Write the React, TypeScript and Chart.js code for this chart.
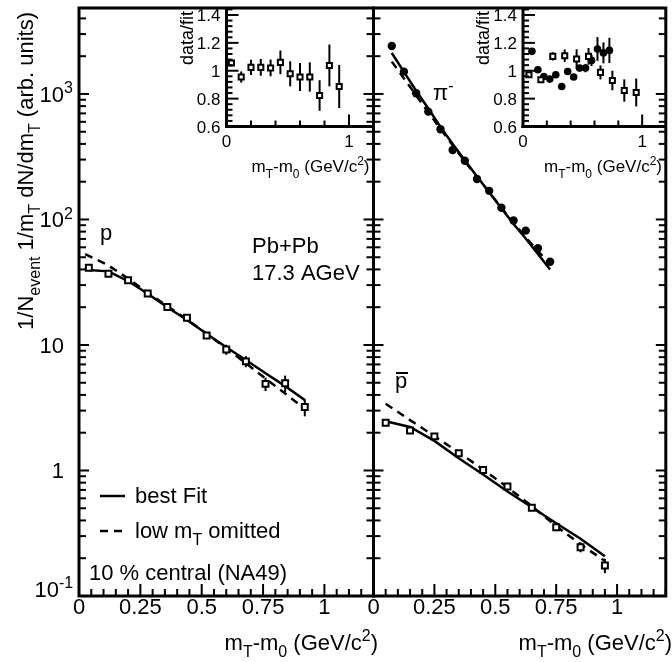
import React, { useEffect, useRef } from "react";
import { Chart, registerables } from "chart.js";

Chart.register(...registerables);

const CANVAS_W = 672;
const CANVAS_H = 662;
const FONT = '"Liberation Sans", Arial, Helvetica, sans-serif';

// ---------------- data: protons (left panel) ----------------
const pMt = [0.04, 0.12, 0.2, 0.28, 0.36, 0.44, 0.52, 0.6, 0.68, 0.76, 0.84, 0.92];
const pYield = [41.2, 36.9, 32.8, 25.7, 20.1, 16.5, 11.9, 9.2, 7.4, 4.9, 4.95, 3.2];
const pYieldErr = [0.8, 0.8, 0.7, 0.6, 0.6, 0.6, 0.65, 0.85, 0.75, 0.6, 0.75, 0.5];
const pFitMt = [0.025, 0.12, 0.2, 0.28, 0.36, 0.44, 0.52, 0.6, 0.68, 0.76, 0.84, 0.92];
const pBestFit = [39.8, 38.6, 32.3, 25.6, 20.0, 15.8, 12.3, 9.6, 7.6, 5.95, 4.7, 3.65];
const pLowOmitFit = [53, 43, 33.8, 26.2, 20.4, 16.0, 12.3, 9.4, 7.15, 5.4, 4.1, 3.1];
const pRatio = [1.055, 0.955, 1.024, 1.024, 1.02, 1.06, 0.978, 0.955, 0.955, 0.822, 1.038, 0.887];
const pRatioErr = [0.025, 0.04, 0.055, 0.06, 0.06, 0.085, 0.09, 0.1, 0.105, 0.11, 0.15, 0.155];

// ---------------- data: pi- (right panel) ----------------
const piMt = [0.075, 0.125, 0.175, 0.225, 0.275, 0.325, 0.375, 0.425, 0.475, 0.525, 0.575, 0.625, 0.675, 0.725];
const piYield = [2410, 1506, 1013, 723, 523, 358, 294, 210, 169, 124, 98, 81.5, 59, 46];
const piBestFit = [2120, 1500, 1060, 765, 545, 400, 296, 220, 165, 123, 92, 70.5, 53, 40];
const piLowOmitFit = [1810, 1330, 975, 715, 525, 390, 290, 218, 165, 124, 94, 72, 56, 44];
const piRatio = [1.139, 1.007, 0.959, 0.94, 0.971, 0.887, 0.995, 0.955, 1.019, 1.019, 1.074, 1.156, 1.128, 1.146];
const piRatioErr = [0.01, 0.01, 0.01, 0.01, 0.01, 0.01, 0.015, 0.015, 0.02, 0.03, 0.04, 0.085, 0.075, 0.09];

// ---------------- data: anti-protons (right panel) ----------------
const pbMt = [0.05, 0.15, 0.25, 0.35, 0.45, 0.55, 0.65, 0.75, 0.85, 0.95];
const pbYield = [2.4, 2.08, 1.87, 1.37, 1.01, 0.746, 0.504, 0.353, 0.245, 0.175];
const pbYieldErr = [0.05, 0.04, 0.04, 0.03, 0.03, 0.03, 0.02, 0.025, 0.022, 0.023];
const pbBestFit = [2.47, 2.22, 1.72, 1.25, 0.93, 0.68, 0.51, 0.38, 0.286, 0.207];
const pbLowOmitFit = [3.4, 2.52, 1.88, 1.39, 1.02, 0.735, 0.52, 0.36, 0.258, 0.19];
const pbRatio = [0.971, 0.935, 1.103, 1.108, 1.084, 1.103, 0.988, 0.93, 0.858, 0.844];
const pbRatioErr = [0.015, 0.02, 0.03, 0.045, 0.07, 0.06, 0.05, 0.07, 0.08, 0.1];

// ---------------- tick labels ----------------
const yDecadeValues = [0.1, 1, 10, 100, 1000];
const yDecadeLabels = ["10^{-1}", "1", "10", "10^{2}", "10^{3}"];
const xTickValues = [0, 0.25, 0.5, 0.75, 1];
const xTickLabels = ["0", "0.25", "0.5", "0.75", "1"];
const ratioTickValues = [0.6, 0.8, 1, 1.2, 1.4];
const ratioTickLabels = ["0.6", "0.8", "1", "1.2", "1.4"];
const insetXTickValues = [0, 1];
const insetXTickLabels = ["0", "1"];

const X_TITLE = "m_{T}-m_{0} (GeV/c^{2})";
const Y_TITLE = "1/N_{event} 1/m_{T} dN/dm_{T} (arb. units)";

// ---------------- layout ----------------
const Y_MIN = 0.1;
const Y_MAX = 4840;
const X_MAX = 1.2;
const R_MIN = 0.6;
const R_MAX = 1.45;
const MAIN_L = { l: 79, r: 373.5, t: 8, b: 596 };
const MAIN_R = { l: 373.5, r: 670.5, t: 8, b: 596 };
const INSET_L = { l: 226.5, r: 373.5, t: 8, b: 126.5 };
const INSET_R = { l: 523, r: 670.5, t: 8, b: 126.5 };

// ---------------- rich text ----------------
type Seg = { t: string; k: "n" | "sub" | "sup" };
function parseRich(s: string): Seg[] {
  const segs: Seg[] = [];
  let i = 0;
  let buf = "";
  while (i < s.length) {
    const c = s[i];
    if ((c === "_" || c === "^") && s[i + 1] === "{") {
      if (buf) {
        segs.push({ t: buf, k: "n" });
        buf = "";
      }
      const end = s.indexOf("}", i);
      segs.push({ t: s.slice(i + 2, end), k: c === "_" ? "sub" : "sup" });
      i = end + 1;
    } else {
      buf += c;
      i++;
    }
  }
  if (buf) segs.push({ t: buf, k: "n" });
  return segs;
}

function segFont(k: string, size: number) {
  return `${k === "n" ? size : Math.round(size * 0.72)}px ${FONT}`;
}

function richWidths(ctx: CanvasRenderingContext2D, segs: Seg[], size: number) {
  return segs.map((g) => {
    ctx.font = segFont(g.k, size);
    return ctx.measureText(g.t).width;
  });
}

function drawRich(
  ctx: CanvasRenderingContext2D,
  s: string,
  x: number,
  y: number,
  size: number,
  align: "left" | "right" | "center" = "left"
) {
  const segs = parseRich(s);
  const w = richWidths(ctx, segs, size);
  const total = w.reduce((a, b) => a + b, 0);
  let cx = align === "left" ? x : align === "right" ? x - total : x - total / 2;
  ctx.textAlign = "left";
  ctx.textBaseline = "alphabetic";
  ctx.fillStyle = "#000";
  segs.forEach((g, i) => {
    ctx.font = segFont(g.k, size);
    const dy = g.k === "sub" ? size * 0.33 : g.k === "sup" ? -size * 0.4 : 0;
    ctx.fillText(g.t, cx, y + dy);
    cx += w[i];
  });
  return total;
}

function line(ctx: CanvasRenderingContext2D, x1: number, y1: number, x2: number, y2: number) {
  ctx.beginPath();
  ctx.moveTo(x1, y1);
  ctx.lineTo(x2, y2);
  ctx.stroke();
}

// ---------------- plugins ----------------
const errorBarPlugin = {
  id: "errbars",
  beforeDatasetsDraw(chart: any) {
    const { ctx, scales } = chart;
    const x = scales.x;
    const y = scales.y;
    ctx.save();
    ctx.strokeStyle = "#000";
    ctx.lineWidth = 2;
    chart.data.datasets.forEach((ds: any) => {
      if (!ds.errs) return;
      ds.data.forEach((p: any, i: number) => {
        const e = ds.errs[i];
        if (!e) return;
        const px = x.getPixelForValue(p.x);
        line(ctx, px, y.getPixelForValue(p.y - e), px, y.getPixelForValue(p.y + e));
      });
    });
    ctx.restore();
  },
};

function drawMainFrame(chart: any, isLeft: boolean) {
  const { ctx, chartArea: a, scales } = chart;
  const x = scales.x;
  const y = scales.y;
  ctx.save();
  ctx.strokeStyle = "#000";
  ctx.lineWidth = 3;
  ctx.strokeRect(a.left, a.top, a.right - a.left, a.bottom - a.top);
  ctx.lineWidth = 2;
  // log y ticks on both vertical edges
  for (let d = -1; d <= 3; d++) {
    for (let k = 1; k <= 9; k++) {
      const v = k * Math.pow(10, d);
      if (v < Y_MIN || v > Y_MAX) continue;
      const py = y.getPixelForValue(v);
      const len = k === 1 ? 10 : 7;
      line(ctx, a.left, py, a.left + len, py);
      line(ctx, a.right, py, a.right - len, py);
    }
  }
  // x ticks
  for (let i = 0; i <= 24; i++) {
    const v = i * 0.05;
    const px = x.getPixelForValue(v);
    const len = i % 5 === 0 ? 12 : 7;
    line(ctx, px, a.bottom, px, a.bottom - len);
  }
  // x tick labels
  xTickValues.forEach((v, i) => {
    drawRich(ctx, xTickLabels[i], x.getPixelForValue(v), a.bottom + 18, 22, "center");
  });
  // x title
  drawRich(ctx, X_TITLE, isLeft ? 378 : 672, 650, 22, "right");
  ctx.restore();
}

const leftMainPlugin = {
  id: "leftMain",
  afterDraw(chart: any) {
    const { ctx, scales } = chart;
    const y = scales.y;
    drawMainFrame(chart, true);
    ctx.save();
    // y tick labels
    yDecadeValues.forEach((v, i) => {
      const label = yDecadeLabels[i];
      const segs = parseRich(label);
      const w = richWidths(ctx, segs, 22);
      const baseW = segs.reduce((s, g, j) => (g.k === "n" ? s + w[j] : s), 0);
      const isMin = v === Y_MIN;
      const anchor = isMin ? 59 : 64;
      const py = y.getPixelForValue(v);
      drawRich(ctx, label, anchor - baseW, isMin ? py + 1 : py + 8, 22, "left");
    });
    // y title (rotated)
    ctx.save();
    ctx.translate(33, 12);
    ctx.rotate(-Math.PI / 2);
    drawRich(ctx, Y_TITLE, 0, 0, 22, "right");
    ctx.restore();
    // texts
    drawRich(ctx, "p", 100, 240, 22, "left");
    drawRich(ctx, "Pb+Pb", 252, 253, 22, "left");
    drawRich(ctx, "17.3 AGeV", 252, 280, 22, "left");
    // legend
    ctx.strokeStyle = "#000";
    ctx.lineWidth = 2.5;
    line(ctx, 100, 496, 125, 496);
    ctx.setLineDash([8, 6]);
    line(ctx, 100, 531, 126, 531);
    ctx.setLineDash([]);
    drawRich(ctx, "best Fit", 135, 503, 22, "left");
    drawRich(ctx, "low m_{T} omitted", 135, 538, 22, "left");
    drawRich(ctx, "10 % central (NA49)", 89, 580, 22, "left");
    ctx.restore();
  },
};

const rightMainPlugin = {
  id: "rightMain",
  afterDraw(chart: any) {
    const { ctx } = chart;
    drawMainFrame(chart, false);
    ctx.save();
    drawRich(ctx, "\u03c0^{-}", 433, 100, 22, "left");
    drawRich(ctx, "p", 395, 388, 22, "left");
    ctx.strokeStyle = "#000";
    ctx.lineWidth = 2;
    line(ctx, 396, 373, 408, 373);
    ctx.restore();
  },
};

const insetPlugin = {
  id: "inset",
  afterDraw(chart: any) {
    const { ctx, chartArea: a, scales } = chart;
    const x = scales.x;
    const y = scales.y;
    ctx.save();
    ctx.strokeStyle = "#000";
    ctx.lineWidth = 3;
    line(ctx, a.left, a.top, a.left, a.bottom + 1.5);
    line(ctx, a.left - 1.5, a.bottom, a.right, a.bottom);
    ctx.lineWidth = 2;
    for (let i = 0; i <= 21; i++) {
      const v = R_MIN + i * 0.04;
      const py = y.getPixelForValue(v);
      line(ctx, a.left, py, a.left + (i % 5 === 0 ? 12 : 6), py);
    }
    for (let i = 1; i <= 5; i++) {
      const v = i * 0.2;
      const px = x.getPixelForValue(v);
      line(ctx, px, a.bottom, px, a.bottom - (i === 5 ? 12 : 6));
    }
    ratioTickValues.forEach((v, i) => {
      drawRich(ctx, ratioTickLabels[i], a.left - 6, y.getPixelForValue(v) + 6, 17, "right");
    });
    insetXTickValues.forEach((v, i) => {
      drawRich(ctx, insetXTickLabels[i], x.getPixelForValue(v), 147, 17, "center");
    });
    drawRich(ctx, X_TITLE, a.right - 4, 172, 17, "right");
    ctx.save();
    ctx.translate(a.left - 34, 11);
    ctx.rotate(-Math.PI / 2);
    drawRich(ctx, "data/fit", 0, 0, 18, "right");
    ctx.restore();
    ctx.restore();
  },
};

// ---------------- configs ----------------
function pts(xs: number[], ys: number[]) {
  return xs.map((x, i) => ({ x, y: ys[i] }));
}

function options(area: { l: number; r: number; t: number; b: number }, log: boolean) {
  return {
    responsive: false,
    animation: false,
    events: [],
    layout: {
      padding: { left: area.l, right: CANVAS_W - area.r, top: area.t, bottom: CANVAS_H - area.b },
    },
    scales: {
      x: { type: "linear", min: 0, max: X_MAX, display: false },
      y: log
        ? { type: "logarithmic", min: Y_MIN, max: Y_MAX, display: false }
        : { type: "linear", min: R_MIN, max: R_MAX, display: false },
    },
    plugins: { legend: { display: false }, tooltip: { enabled: false }, title: { display: false } },
  } as any;
}

function squares(xs: number[], ys: number[], errs: number[] | null, r: number) {
  return {
    data: pts(xs, ys),
    showLine: false,
    pointStyle: "rect",
    pointRadius: r,
    pointBorderWidth: 2,
    pointBorderColor: "#000",
    pointBackgroundColor: "#fff",
    errs,
    order: 0,
  } as any;
}

function circles(xs: number[], ys: number[], errs: number[] | null, r: number) {
  return {
    data: pts(xs, ys),
    showLine: false,
    pointStyle: "circle",
    pointRadius: r,
    pointBorderWidth: 0,
    pointBackgroundColor: "#000",
    pointBorderColor: "#000",
    errs,
    order: 0,
  } as any;
}

function curve(xs: number[], ys: number[], dashed: boolean) {
  return {
    data: pts(xs, ys),
    showLine: true,
    borderColor: "#000",
    borderWidth: 2.5,
    borderDash: dashed ? [8, 6] : [],
    pointRadius: 0,
    tension: 0,
    order: 1,
  } as any;
}

function leftMainConfig() {
  return {
    type: "scatter",
    data: {
      datasets: [
        curve(pFitMt, pBestFit, false),
        curve(pFitMt, pLowOmitFit, true),
        squares(pMt, pYield, pYieldErr, 4.2),
      ],
    },
    options: options(MAIN_L, true),
    plugins: [errorBarPlugin, leftMainPlugin],
  } as any;
}

function rightMainConfig() {
  return {
    type: "scatter",
    data: {
      datasets: [
        curve(piMt, piBestFit, false),
        curve(piMt, piLowOmitFit, true),
        curve(pbMt, pbBestFit, false),
        curve(pbMt, pbLowOmitFit, true),
        circles(piMt, piYield, null, 4.2),
        squares(pbMt, pbYield, pbYieldErr, 4.2),
      ],
    },
    options: options(MAIN_R, true),
    plugins: [errorBarPlugin, rightMainPlugin],
  } as any;
}

function leftInsetConfig() {
  return {
    type: "scatter",
    data: { datasets: [squares(pMt, pRatio, pRatioErr, 3.6)] },
    options: options(INSET_L, false),
    plugins: [errorBarPlugin, insetPlugin],
  } as any;
}

function rightInsetConfig() {
  return {
    type: "scatter",
    data: {
      datasets: [squares(pbMt, pbRatio, pbRatioErr, 3.6), circles(piMt, piRatio, piRatioErr, 3.8)],
    },
    options: options(INSET_R, false),
    plugins: [errorBarPlugin, insetPlugin],
  } as any;
}

export default function App() {
  const c1 = useRef<HTMLCanvasElement>(null);
  const c2 = useRef<HTMLCanvasElement>(null);
  const c3 = useRef<HTMLCanvasElement>(null);
  const c4 = useRef<HTMLCanvasElement>(null);

  useEffect(() => {
    const charts = [
      new Chart(c1.current as HTMLCanvasElement, leftMainConfig()),
      new Chart(c2.current as HTMLCanvasElement, rightMainConfig()),
      new Chart(c3.current as HTMLCanvasElement, leftInsetConfig()),
      new Chart(c4.current as HTMLCanvasElement, rightInsetConfig()),
    ];
    return () => charts.forEach((c) => c.destroy());
  }, []);

  const st: React.CSSProperties = { position: "absolute", left: 0, top: 0 };
  return (
    <div
      style={{
        position: "absolute",
        left: 0,
        top: 0,
        width: CANVAS_W,
        height: CANVAS_H,
        background: "#fff",
        overflow: "hidden",
      }}
    >
      <canvas ref={c1} width={CANVAS_W} height={CANVAS_H} style={st} />
      <canvas ref={c2} width={CANVAS_W} height={CANVAS_H} style={st} />
      <canvas ref={c3} width={CANVAS_W} height={CANVAS_H} style={st} />
      <canvas ref={c4} width={CANVAS_W} height={CANVAS_H} style={st} />
    </div>
  );
}
